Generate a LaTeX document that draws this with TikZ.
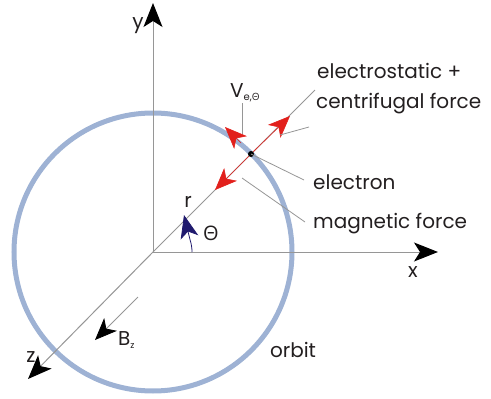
\documentclass[tikz,border=0pt]{standalone}
\usepackage{fontspec}
\setmainfont{Poppins}
\newfontfamily\gk{Open Sans}
\usetikzlibrary{arrows.meta}
\definecolor{orbitblue}{RGB}{158,178,212}
\definecolor{fred}{RGB}{226,32,28}
\definecolor{navyb}{RGB}{32,26,110}
\definecolor{lgrey}{RGB}{150,150,150}
\definecolor{txt}{RGB}{35,31,32}
\begin{document}
\begin{tikzpicture}[x=1pt,y=-1pt,
  lbl/.style={font=\fontsize{20}{24}\selectfont, text=txt, inner sep=0pt},
  leader/.style={draw=lgrey, line width=0.8pt},
  axis/.style={draw=lgrey, line width=1pt, -{Stealth[length=24pt,width=19pt,inset=6pt,color=black]}},
  redtip/.style={fred, line width=0.6pt, -{Stealth[length=22pt,width=18pt,inset=6pt]}},
]
\useasboundingbox (0,0) rectangle (491,399);
\coordinate (O) at (153,252);
\coordinate (E) at (251,154);
% orbit
\draw[orbitblue, line width=5pt] (O) circle[radius=139];
% axes
\draw[axis] (O) -- (153,3) coordinate (ytip);
\draw[axis] (O) -- (438,252) coordinate (xtip);
\draw[axis] (O) -- (28,379) coordinate (ztip);
% radial line
\draw[leader] (O) -- (315,90) coordinate (radend);
% B_z arrow
\coordinate (bzs) at (138,297);
\coordinate (bzt) at (95,340);
\draw[axis, line width=0.8pt, -{Stealth[length=22pt,width=18pt,inset=6pt,color=black]}] (bzs) -- (bzt);
% angle arc
\coordinate (arcs) at (192,252);
\coordinate (artip) at (184,215);
\draw[navyb, line width=0.8pt, -{Stealth[length=23pt,width=18pt,inset=6pt]}]
  (arcs) arc[start angle=0, end angle=-18, radius=39] -- (artip);
% red force arrows
\coordinate (tanb) at (241,143);
\coordinate (tant) at (225,127);
\coordinate (outt) at (290,116);
\coordinate (int) at (215,190);
\draw[redtip] (E) -- (outt);
\draw[redtip] (E) -- (int);
\draw[redtip] (tanb) -- (tant);
% electron
\fill[black] (E) circle[radius=3] node (el) {};
% leaders
\coordinate (vl1) at (242,103);
\coordinate (vl2) at (242,134);
\draw[leader] (vl1) -- (vl2);
\coordinate (cl1) at (280,135);
\coordinate (cl2) at (309,127);
\draw[leader] (cl1) -- (cl2);
\coordinate (ell2) at (304,180);
\draw[leader] (E) -- (ell2);
\coordinate (ml1) at (242,178);
\coordinate (ml2) at (305,222);
\draw[leader] (ml1) -- (ml2);
% labels
\node[lbl, anchor=base] (ylab) at (138,28) {y};
\node[lbl, anchor=base] (xlab) at (413,277) {x};
\node[lbl, anchor=base] (zlab) at (31,362) {z};
\node[lbl, anchor=base] (rlab) at (188,207) {r};
\node[lbl, anchor=base] (thlab) at (211,240) {\gk Θ};
\node[lbl, anchor=base west] (vlab) at (230,97) {V\raisebox{-3pt}{\fontsize{10}{10}\selectfont e,{\gk Θ}}};
\node[lbl, anchor=base west] (bzlab) at (118,345) {B\raisebox{-3pt}{\fontsize{9}{9}\selectfont z}};
\node[lbl, anchor=base west] (elab) at (317,78) {electrostatic +};
\node[lbl, anchor=base west] (clab) at (316,108) {centrifugal force};
\node[lbl, anchor=base west] (enlab) at (313,189) {electron};
\node[lbl, anchor=base west] (mlab) at (313,228) {magnetic force};
\node[lbl, anchor=base] (olab) at (293,357) {orbit};
\end{tikzpicture}
\end{document}
